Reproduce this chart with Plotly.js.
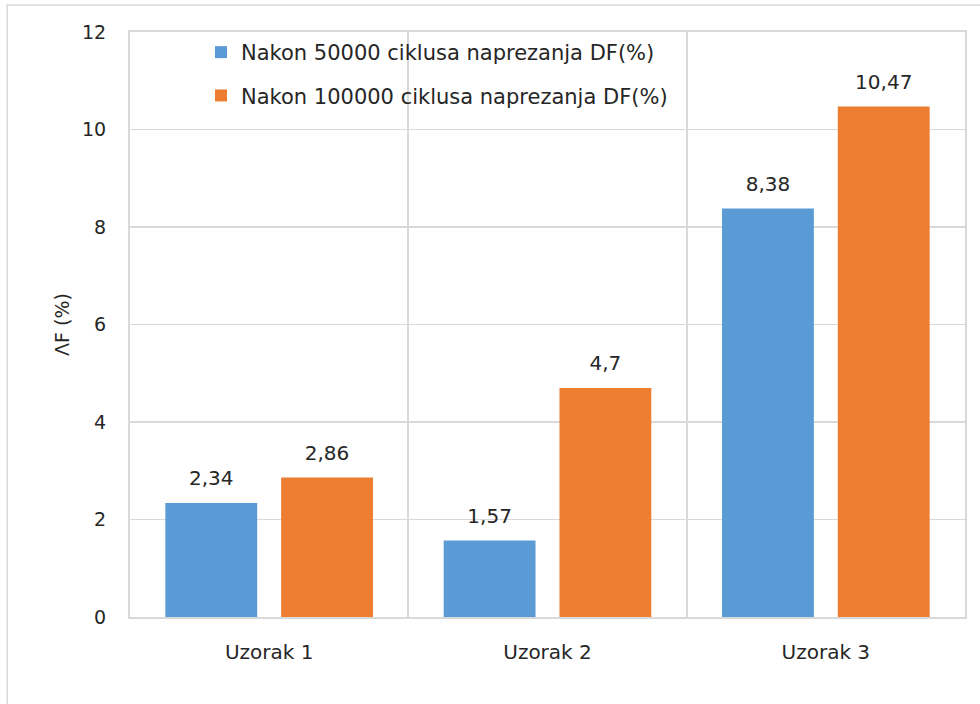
<!DOCTYPE html>
<html>
<head>
<meta charset="utf-8">
<script src="https://cdn.plot.ly/plotly-3.0.1.min.js"></script>
<style>html,body{margin:0;padding:0;background:#fff;}#chart{width:980px;height:704px;}</style>
</head>
<body>
<div id="chart"></div>
<script>
const categories = ["Uzorak 1", "Uzorak 2", "Uzorak 3"];
const seriesNames = ["Nakon 50000 ciklusa naprezanja DF(%)", "Nakon 100000 ciklusa naprezanja DF(%)"];
const values50k = [2.34, 1.57, 8.38];
const values100k = [2.86, 4.7, 10.47];
const yTicks = [0, 2, 4, 6, 8, 10, 12];
const yTitle = "ΛF (%)";

const fmt = v => String(v).replace('.', ',');
const font = "DejaVu Sans, sans-serif";
const colors = ['#5B9BD5', '#ED7D31'];
const BAR_W = 0.33;
const offsets = [-0.373, 0.043];
const seriesValues = [values50k, values100k];

const traces = [];
seriesValues.forEach((vals, s) => {
  traces.push({type: 'bar', x: categories, y: vals, name: seriesNames[s], legendgroup: 'g' + s,
    marker: {color: colors[s]}, width: BAR_W, offset: offsets[s], hoverinfo: 'skip'});
});
seriesValues.forEach((vals, s) => {
  traces.push({type: 'scatter', xaxis: 'x2', x: categories.map((c, i) => i + offsets[s] + BAR_W / 2),
    y: vals, mode: 'markers+text', text: vals.map(fmt), textposition: 'top center',
    marker: {size: 19, opacity: 0, color: colors[s]}, showlegend: false, cliponaxis: false,
    hoverinfo: 'skip', textfont: {size: 20, color: '#262626', family: font}});
});

const layout = {
  width: 980, height: 704,
  margin: {l: 130, r: 15, t: 32, b: 87},
  paper_bgcolor: '#fff', plot_bgcolor: '#fff',
  font: {family: font, size: 20, color: '#262626'},
  showlegend: true,
  legend: {x: 0.085, y: 1.0, xanchor: 'left', yanchor: 'top', bgcolor: 'rgba(0,0,0,0)',
           traceorder: 'grouped', tracegroupgap: 13, font: {size: 21, color: '#262626'}},
  xaxis: {type: 'category', range: [-0.5, 2.5], tickson: 'boundaries', ticks: '',
          showgrid: true, gridcolor: '#D9D9D9', gridwidth: 2,
          showline: true, linecolor: '#D9D9D9', linewidth: 2, mirror: true,
          ticklabelstandoff: 16,
          tickfont: {size: 20, color: '#262626'}, fixedrange: true},
  xaxis2: {overlaying: 'x', range: [-0.5, 2.5], visible: false, fixedrange: true},
  yaxis: {range: [0, 12], tickvals: yTicks, ticktext: yTicks.map(String),
          showgrid: true, gridcolor: '#D9D9D9', gridwidth: 1.5, zeroline: false,
          showline: true, linecolor: '#D9D9D9', linewidth: 2, mirror: true,
          ticks: '', ticklabelstandoff: 18,
          tickfont: {size: 19, color: '#262626'},
          title: {text: yTitle, font: {size: 19, color: '#262626'}, standoff: 7}},
  shapes: [{type: 'rect', xref: 'paper', yref: 'paper', x0: -0.147, x1: 1.2, y0: -0.3, y1: 1.046,
            line: {color: '#D9D9D9', width: 1.5}, fillcolor: 'rgba(0,0,0,0)', layer: 'below'}]
};

Plotly.newPlot('chart', traces, layout, {displayModeBar: false, staticPlot: true});
</script>
</body>
</html>
